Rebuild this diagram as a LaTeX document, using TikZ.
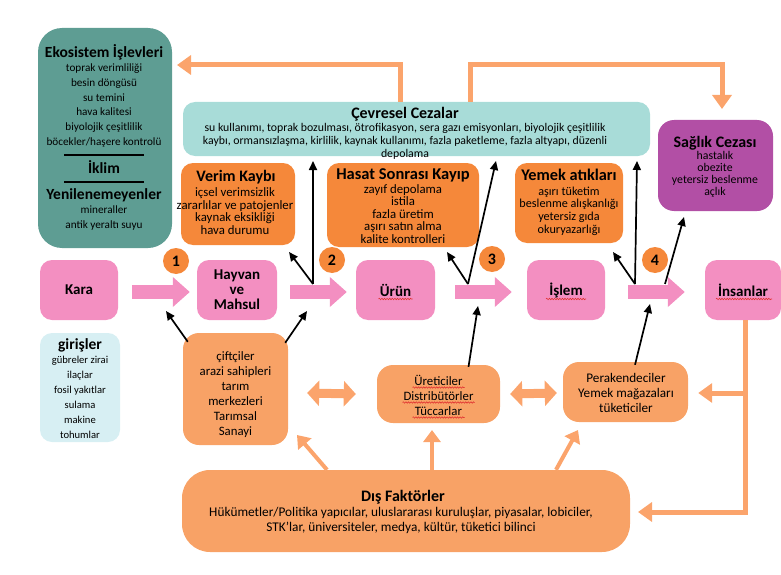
\documentclass[tikz,border=0pt]{standalone}
\usepackage{fontspec}
\setmainfont{Carlito}
\usetikzlibrary{arrows.meta,decorations.pathmorphing}

\definecolor{ecoteal}{HTML}{5E9D93}
\definecolor{penteal}{HTML}{A8DCD8}
\definecolor{inputblue}{HTML}{D7EFF3}
\definecolor{lossorange}{HTML}{F5883A}
\definecolor{actororange}{HTML}{F8A266}
\definecolor{linkorange}{HTML}{FBA46C}
\definecolor{stagepink}{HTML}{F38FC1}
\definecolor{healthpurple}{HTML}{B24FA5}
\definecolor{spellred}{HTML}{E03030}

\tikzset{
  box/.style={rounded corners=12pt, inner sep=0pt},
  bigbox/.style={rounded corners=24pt, inner sep=0pt},
  head/.style={font=\fontsize{#1}{#1}\selectfont\bfseries, inner sep=0pt},
  head/.default=15.5,
  body/.style 2 args={font=\fontsize{#1}{#2}\selectfont, align=center, inner sep=0pt},
  stagebox/.style={box, fill=stagepink, minimum height=60pt,
    font=\fontsize{15}{15}\selectfont\bfseries, align=center},
  stagearrow/.style={draw=stagepink, line width=14pt,
    -{Triangle[length=17pt,width=29pt]}},
  stepnum/.style={circle, fill=lossorange, minimum size=26pt, inner sep=0pt,
    font=\fontsize{16}{16}\selectfont\bfseries},
  flow/.style={draw=linkorange, line width=5pt, line join=miter},
  flowarrow/.style={flow, -{Triangle[length=14pt,width=19pt]}},
  thinflow/.style={draw=linkorange, line width=4pt,
    -{Triangle[length=12pt,width=17pt]}},
  twoway/.style={draw=linkorange, line width=9pt,
    {Triangle[length=12pt,width=25pt]}-{Triangle[length=12pt,width=25pt]}},
  push/.style={draw=black, line width=1.7pt,
    -{Triangle[length=9pt,width=8pt]}},
  squiggle/.style={draw=spellred, line width=0.6pt, decorate,
    decoration={snake, amplitude=0.7pt, segment length=2.6pt}},
}

\begin{document}
\begin{tikzpicture}[x=1pt,y=-1pt]
\useasboundingbox (0,0) rectangle (781,575);

% ---------- feedback connectors from the environmental penalties ----------
\node[box, fill=penteal, minimum width=467pt, minimum height=54pt] (pen) at (416.5,129) {};
\coordinate (ecoTip) at (177,65);
\coordinate (healthTip) at (722,109);
\draw[flowarrow] ([xshift=-16.5pt]pen.north) |- (ecoTip);
\draw[flowarrow] ([xshift=53.5pt]pen.north) -- ++(0,-37) -| (healthTip);

% ---------- ecosystem column ----------
\node[bigbox, fill=ecoteal, minimum width=134pt, minimum height=220pt] (eco) at (105,138) {};
\node[head] (ecoT) at (104,52) {Ekosistem İşlevleri};
\node[body={11.2}{14.8}] (ecoL) at (104,105.5) {toprak verimliliği\\besin döngüsü\\su temini\\hava kalitesi\\biyolojik çeşitlilik\\böcekler/haşere kontrolü};
\coordinate (rule1) at (104,155);
\draw[line width=1.8pt] ([xshift=-40pt]rule1) -- ([xshift=40pt]rule1);
\node[head] (ecoK) at (104,167) {İklim};
\coordinate (rule2) at (104,182);
\draw[line width=1.8pt] ([xshift=-40pt]rule2) -- ([xshift=40pt]rule2);
\node[head] (ecoY) at (104,195) {Yenilenemeyenler};
\node[body={11.2}{15}] (ecoM) at (104,218.5) {mineraller\\antik yeraltı suyu};

% ---------- environmental penalties text ----------
\node[head=16] (penT) at (405,114) {Çevresel Cezalar};
\node[body={11.8}{13}] (penL) at (405,141) {su kullanımı, toprak bozulması, ötrofikasyon, sera gazı emisyonları, biyolojik çeşitlilik\\kaybı, ormansızlaşma, kirlilik, kaynak kullanımı, fazla paketleme, fazla altyapı, düzenli\\depolama};

% ---------- loss boxes ----------
\node[box, fill=lossorange, minimum width=114pt, minimum height=82pt] (yield) at (238,204) {};
\node[head=16] (yieldT) at (236,177) {Verim Kaybı};
\node[body={12.8}{12.7}] (yieldL) at (235,211) {içsel verimsizlik\\zararlılar ve patojenler\\kaynak eksikliği\\hava durumu};

\node[box, fill=lossorange, minimum width=152pt, minimum height=84pt] (harvest) at (403,205) {};
\node[head=16.5] (harvestT) at (403,175) {Hasat Sonrası Kayıp};
\node[body={12.8}{12.4}] (harvestL) at (403,214) {zayıf depolama\\istila\\fazla üretim\\aşırı satın alma\\kalite kontrolleri};

\node[box, fill=lossorange, minimum width=108pt, minimum height=80pt] (waste) at (569,203) {};
\node[head=16.3] (wasteT) at (569,175) {Yemek atıkları};
\node[body={12.2}{12.7}] (wasteL) at (569,211) {aşırı tüketim\\beslenme alışkanlığı\\yetersiz gıda\\okuryazarlığı};

\node[box, rounded corners=16pt, fill=healthpurple, minimum width=115pt, minimum height=91pt] (health) at (715.5,165.5) {};
\node[head=16] (healthT) at (715,143) {Sağlık Cezası};
\node[body={11.8}{12}] (healthL) at (715,174.5) {hastalık\\obezite\\yetersiz beslenme\\açlık};

% ---------- food chain stages ----------
\node[stagebox, minimum width=78pt] (kara) at (79,290) {Kara};
\node[stagebox, minimum width=80pt] (hayvan) at (237,290) {Hayvan\\ve\\Mahsul};
\node[stagebox, minimum width=79pt] (urun) at (395.5,290) {Ürün};
\node[stagebox, minimum width=78pt] (islem) at (566,290) {İşlem};
\node[stagebox, minimum width=76pt] (people) at (743,290) {İnsanlar};

\draw[stagearrow] ([xshift=14pt,yshift=-2pt]kara.east) -- ([xshift=-7pt,yshift=-2pt]hayvan.west);
\draw[stagearrow] ([xshift=13pt,yshift=-2pt]hayvan.east) -- ([xshift=-9pt,yshift=-2pt]urun.west);
\draw[stagearrow] ([xshift=20pt,yshift=-2pt]urun.east) -- ([xshift=-15pt,yshift=-2pt]islem.west);
\draw[stagearrow] ([xshift=23pt,yshift=-2pt]islem.east) -- ([xshift=-20pt,yshift=-2pt]people.west);

\node[stepnum] (n1) at (176,261) {1};
\node[stepnum] (n2) at (332,260) {2};
\node[stepnum] (n3) at (492,259) {3};
\node[stepnum] (n4) at (655,260) {4};

% spell-check marks under some words
\draw[squiggle] ([xshift=-17pt,yshift=-9pt]urun.center) -- ([xshift=17pt,yshift=-9pt]urun.center);
\draw[squiggle] ([xshift=-20pt,yshift=-9pt]islem.center) -- ([xshift=20pt,yshift=-9pt]islem.center);
\draw[squiggle] ([xshift=-27pt,yshift=-9pt]people.center) -- ([xshift=29pt,yshift=-9pt]people.center);

% ---------- actors ----------
\node[box, fill=inputblue, minimum width=80pt, minimum height=109pt] (inputs) at (80,387.5) {};
\node[head] (inputsT) at (80,345) {girişler};
\node[body={10.6}{15}] (inputsL) at (80,397.5) {gübreler zirai\\ilaçlar\\fosil yakıtlar\\sulama\\makine\\tohumlar};

\node[box, rounded corners=16pt, fill=actororange, minimum width=105pt, minimum height=112pt] (farm) at (235.5,389) {};
\node[body={12.8}{15}] (farmL) at (235.5,394.5) {çiftçiler\\arazi sahipleri\\tarım\\merkezleri\\Tarımsal\\Sanayi};

\node[box, rounded corners=16pt, fill=actororange, minimum width=123pt, minimum height=58pt] (trade) at (438.5,394) {};
\node[body={12.8}{15}] (tradeL) at (438.5,395) {Üreticiler\\Distribütörler\\Tüccarlar};
\draw[squiggle] ([xshift=-26pt,yshift=7.5pt]tradeL.center) -- ([xshift=26pt,yshift=7.5pt]tradeL.center);
\draw[squiggle] ([xshift=-36pt,yshift=-7.5pt]tradeL.center) -- ([xshift=36pt,yshift=-7.5pt]tradeL.center);
\draw[squiggle] ([xshift=-26pt,yshift=-22.5pt]tradeL.center) -- ([xshift=26pt,yshift=-22.5pt]tradeL.center);

\node[box, rounded corners=16pt, fill=actororange, minimum width=125pt, minimum height=60pt] (retail) at (625.5,392) {};
\node[body={13.2}{15}] (retailL) at (626,393) {Perakendeciler\\Yemek mağazaları\\tüketiciler};

\node[bigbox, rounded corners=28pt, fill=actororange, minimum width=448pt, minimum height=82pt] (ext) at (406,511) {};
\node[head=16] (extT) at (403,497) {Dış Faktörler};
\node[body={13.3}{15}] (extL) at (401,520.5) {Hükümetler/Politika yapıcılar, uluslararası kuruluşlar, piyasalar, lobiciler,\\STK'lar, üniversiteler, medya, kültür, tüketici bilinci};

% ---------- orange links between actors ----------
\draw[twoway] ([xshift=19pt,yshift=-4pt]farm.east) -- ([xshift=-21pt]trade.west);
\draw[twoway] ([xshift=10pt]trade.east) -- ([xshift=-6pt,yshift=-1pt]retail.west);

\coordinate (branch) at (745,393);
\coordinate (extTip) at (638,512);
\draw[flowarrow] ([xshift=2pt]people.south) |- (extTip);
\draw[flowarrow] (branch) -- ([xshift=10pt,yshift=-1pt]retail.east);

\coordinate (farmTip) at (297,435);
\coordinate (tradeTip) at (432,430);
\coordinate (retailTip) at (578,430);
\draw[thinflow] ([xshift=-79pt]ext.north) -- (farmTip);
\draw[thinflow] ([xshift=26pt]ext.north) -- (tradeTip);
\draw[thinflow] ([xshift=150pt]ext.north) -- (retailTip);

% ---------- black pushes onto the chain ----------
\coordinate (b2) at (313,284);
\coordinate (b3) at (468,284);
\coordinate (b4a) at (635,284);
\coordinate (b4b) at (665,284);
\coordinate (t2v) at (313,161);
\coordinate (t2l) at (289,252);
\coordinate (t3l) at (447,252);
\coordinate (t3r) at (496,161);
\coordinate (t4l) at (613,252);
\coordinate (t4v) at (637,161);
\coordinate (t4r) at (684,217);
\draw[push] (b2) -- (t2v);
\draw[push] (b2) -- (t2l);
\draw[push] (b3) -- (t3l);
\draw[push] (b3) -- (t3r);
\draw[push] (b4a) -- (t4l);
\draw[push] (b4a) -- (t4v);
\draw[push] (b4b) -- (t4r);

\coordinate (a1) at (166,311);
\coordinate (a2) at (307,311);
\coordinate (a3) at (478,306);
\coordinate (a4) at (650,304);
\draw[push] ([xshift=5pt,yshift=-9pt]farm.north west) -- (a1);
\draw[push] ([xshift=-3pt,yshift=-10pt]farm.north east) -- (a2);
\draw[push] ([xshift=30pt,yshift=-2pt]trade.north) -- (a3);
\draw[push] ([xshift=9.5pt,yshift=-3pt]retail.north) -- (a4);

\end{tikzpicture}
\end{document}
